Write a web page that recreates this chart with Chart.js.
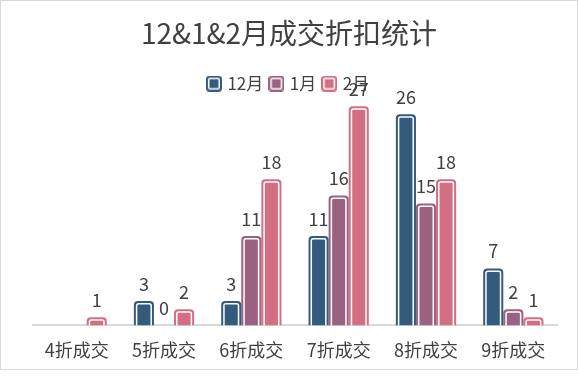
<!DOCTYPE html>
<html><head><meta charset="utf-8">
<script src="https://cdn.jsdelivr.net/npm/chart.js@4/dist/chart.umd.min.js"></script>
<style>
html,body{margin:0;padding:0;background:#fff;}
#c{position:absolute;left:1px;top:1px;display:block;}
#box{position:absolute;left:0;top:0;width:578px;height:370px;box-sizing:border-box;border:1px solid #d9d9d9;background:transparent;pointer-events:none;}
</style></head><body>
<canvas id="c" width="576" height="381"></canvas>
<div id="box"></div>
<script>
const categories = ['4折成交','5折成交','6折成交','7折成交','8折成交','9折成交'];
const seriesNames = ['12月','1月','2月'];
const decValues = [null, 3, 3, 11, 26, 7];
const janValues = [null, 0, 11, 16, 15, 2];
const febValues = [1, 2, 18, 27, 18, 1];
const seriesColors = ['#345A7E', '#9A6280', '#D46F83'];
const titleText = '12&1&2月成交折扣统计';

const FONT = "'Noto Sans CJK SC','Microsoft YaHei',sans-serif";
const TEXT = '#404040';

function roundTopPath(ctx, l, t, r, b, rad) {
  ctx.beginPath();
  ctx.moveTo(l, b);
  ctx.lineTo(l, t + rad);
  ctx.arcTo(l, t, l + rad, t, rad);
  ctx.lineTo(r - rad, t);
  ctx.arcTo(r, t, r, t + rad, rad);
  ctx.lineTo(r, b);
}
function roundRectPath(g, l, t, r, b, rad) {
  g.beginPath();
  g.moveTo(l + rad, t); g.lineTo(r - rad, t); g.arcTo(r, t, r, t + rad, rad);
  g.lineTo(r, b - rad); g.arcTo(r, b, r - rad, b, rad);
  g.lineTo(l + rad, b); g.arcTo(l, b, l, b - rad, rad);
  g.lineTo(l, t + rad); g.arcTo(l, t, l + rad, t, rad);
  g.closePath();
}

function makeIcon(color) {
  const cv = document.createElement('canvas');
  cv.width = 16; cv.height = 16;
  const g = cv.getContext('2d');
  g.fillStyle = color;
  roundRectPath(g, 0, 0, 16, 16, 3.5);
  g.fill();
  g.strokeStyle = '#fff'; g.lineWidth = 1.5;
  roundRectPath(g, 2.75, 2.75, 13.25, 13.25, 1.5);
  g.stroke();
  return cv;
}
const legendIcons = seriesColors.map(makeIcon);

const barDeco = {
  id: 'barDeco',
  afterDatasetsDraw(chart) {
    const ctx = chart.ctx;
    ctx.save();
    chart.data.datasets.forEach((ds, di) => {
      const meta = chart.getDatasetMeta(di);
      meta.data.forEach((el, i) => {
        const v = ds.data[i];
        if (v === null || v === undefined) return;
        const p = el.getProps(['x','y','base','width'], true);
        if (v > 0) {
          const l = p.x - p.width/2 + 2.75, r = p.x + p.width/2 - 2.75;
          const t = p.y + 2.75, b = p.base;
          ctx.strokeStyle = '#ffffff';
          ctx.lineWidth = 1.5;
          roundTopPath(ctx, l, t, r, b, 2);
          ctx.stroke();
        }
        ctx.fillStyle = TEXT;
        ctx.font = '18px ' + FONT;
        ctx.textAlign = 'center';
        ctx.textBaseline = 'middle';
        ctx.fillText(String(v), p.x, p.y - 17);
      });
    });
    ctx.restore();
  }
};

new Chart(document.getElementById('c'), {
  type: 'bar',
  data: {
    labels: categories,
    datasets: [decValues, janValues, febValues].map((d, i) => ({
      label: seriesNames[i],
      data: d,
      backgroundColor: seriesColors[i],
      borderWidth: 0,
      borderRadius: {topLeft: 4, topRight: 4, bottomLeft: 0, bottomRight: 0},
      borderSkipped: false,
      inflateAmount: 0,
      categoryPercentage: 0.69,
      barPercentage: 1.0
    }))
  },
  options: {
    responsive: false,
    animation: false,
    devicePixelRatio: 1,
    layout: {padding: {left: 20, right: 20, top: 0, bottom: 7}},
    plugins: {
      title: {
        display: true, text: titleText, color: TEXT,
        font: {family: FONT, size: 28, weight: 'normal'},
        padding: {top: 16, bottom: 16.5}
      },
      legend: {
        display: true, position: 'top',
        labels: {
          usePointStyle: true, pointStyleWidth: 10, padding: 8,
          color: TEXT, font: {family: FONT, size: 17},
          generateLabels(chart) {
            return chart.data.datasets.map((ds, i) => ({
              text: ds.label, fillStyle: seriesColors[i], strokeStyle: seriesColors[i],
              lineWidth: 0, pointStyle: legendIcons[i], hidden: false,
              datasetIndex: i, fontColor: TEXT
            }));
          }
        }
      },
      tooltip: {enabled: false}
    },
    scales: {
      x: {
        grid: {display: false, drawTicks: false},
        border: {display: true, color: '#d9d9d9', width: 2},
        ticks: {color: TEXT, font: {family: FONT, size: 18}, padding: 14}
      },
      y: {
        display: true, min: 0, max: 27.5,
        grid: {display: false, drawTicks: false},
        border: {display: false},
        ticks: {display: false},
        afterFit(scale) { scale.width = 12; }
      }
    }
  },
  plugins: [barDeco]
});
</script>
</body></html>
